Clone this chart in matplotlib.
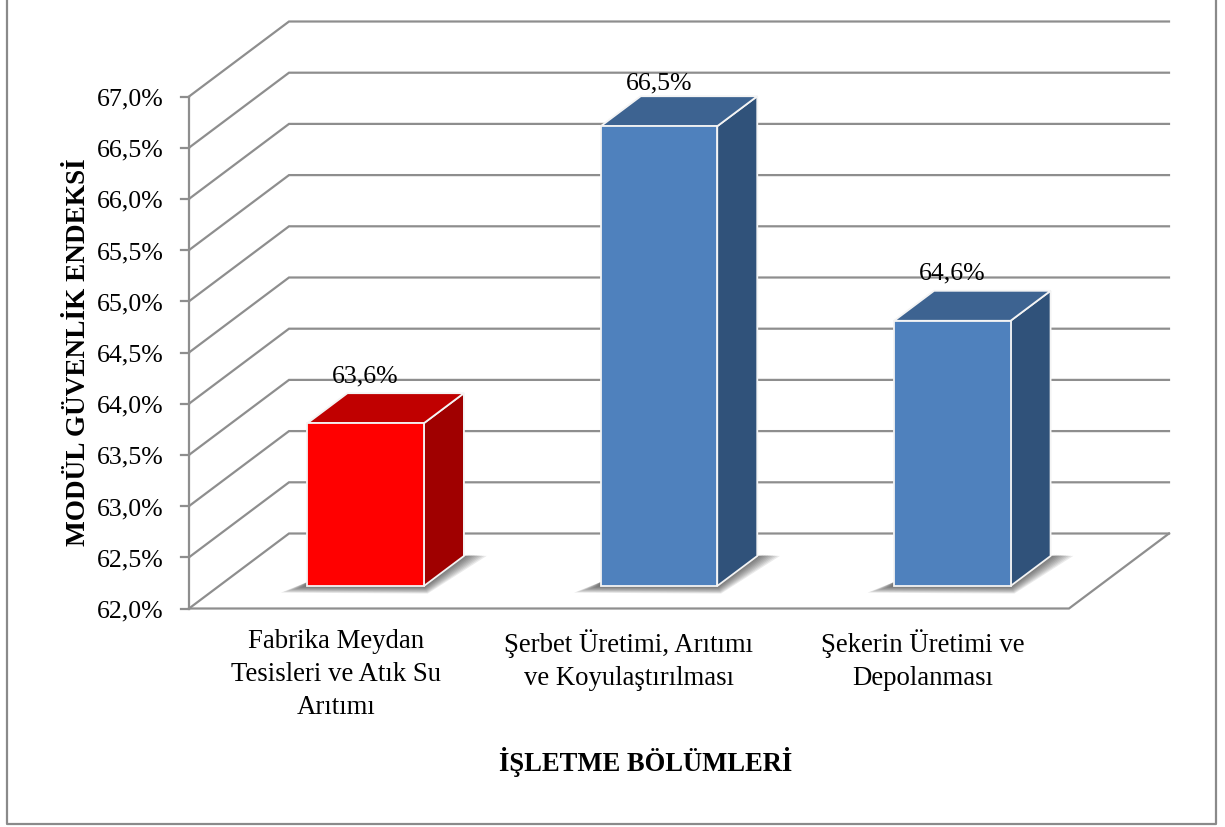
#!/usr/bin/env python3
import matplotlib
matplotlib.use("Agg")
import matplotlib.pyplot as plt
from matplotlib.lines import Line2D
from matplotlib.patches import Polygon

categories = ["Fabrika Meydan\nTesisleri ve Atık Su\nArıtımı",
              "Şerbet Üretimi, Arıtımı\nve Koyulaştırılması",
              "Şekerin Üretimi ve\nDepolanması"]
values = [63.59, 66.49, 64.59]
y_ticks = [62.0, 62.5, 63.0, 63.5, 64.0, 64.5, 65.0, 65.5, 66.0, 66.5, 67.0]
y_title = "MODÜL GÜVENLİK ENDEKSİ"
x_title = "İŞLETME BÖLÜMLERİ"

front_colors = ["#ff0000", "#4f81bd", "#4f81bd"]
top_colors = ["#c00000", "#3d6391", "#3d6391"]
side_colors = ["#a00000", "#30527a", "#30527a"]

W, H = 1225, 828
GRID = "#8e8e8e"
plt.rcParams["font.family"] = ["Liberation Serif", "DejaVu Serif"]

# pixels per category / per value unit on the front plane of the chart
px_x = 293.33
px_y = 102.4
x0, y0 = 189, 609.5  # where category edge -0.5 and value 62 sit
depth_x = 100 / px_x
depth_y = 75 / px_y


def pt(x, v, d=0.0):
    # oblique projection: d=0 front of the box, d=1 back wall
    return x + d * depth_x, v + d * depth_y


fig = plt.figure(figsize=(W / 100, H / 100), dpi=100)
ax = fig.add_axes([0, 0, 1, 1])
ax.set_xlim(-0.5 - x0 / px_x, -0.5 + (W - x0) / px_x)
ax.set_ylim(62 - (H - y0) / px_y, 62 + y0 / px_y)
ax.axis("off")

# frame, open at the top
frame_x = [6.5 / W, 6.5 / W, 1216 / W, 1216 / W]
frame_y = [1.01, 1 - 825 / H, 1 - 825 / H, 1.01]
fig.add_artist(Line2D(frame_x, frame_y, color="#8a8a8a", lw=1.6))

lw = 1.6
xl, xr = -0.5, 2.5
vmin, vmax = y_ticks[0], y_ticks[-1]

for v in y_ticks:
    a, b, c = pt(xl, v), pt(xl, v, 1), pt(xr, v, 1)
    ax.plot([a[0], b[0], c[0]], [a[1], b[1], c[1]], color=GRID, lw=lw, zorder=1,
            solid_joinstyle="miter")
    ax.plot([xl - 8 / px_x, xl], [v, v], color=GRID, lw=lw, zorder=1)
    ax.text(xl - 25 / px_x, v - 2 / px_y, f"{v:.1f}%".replace(".", ","), ha="right", va="center",
            fontsize=18.6, color="black")

ax.plot([xl, xl], [vmin, vmax], color=GRID, lw=lw, zorder=1)
# floor front and right edges
a, b, c = pt(xl, vmin), pt(xr, vmin), pt(xr, vmin, 1)
ax.plot([a[0], b[0], c[0]], [a[1], b[1], c[1]], color=GRID, lw=lw, zorder=1,
        solid_joinstyle="miter")

bar_w = 116.5 / px_x
d_front = 0.30
d_back = d_front + 0.4
label_dy = [0.69, 0.65, 0.69]

for i, v in enumerate(values):
    l, r = i - bar_w / 2, i + bar_w / 2

    # soft shadow on the floor, built from stacked translucent shapes
    for k in range(10):
        g = (10 - k) * 1.9
        gx, gy = g / px_x, g / px_y
        lo = pt(l, vmin, d_front)
        ro = pt(r, vmin, d_front)
        rb = pt(r, vmin, d_back)
        sh = [(lo[0] - gx * 1.4, lo[1] - gy * 0.35),
              (ro[0] + gx * 0.2, ro[1] - gy * 0.4),
              (rb[0] + gx * 1.2, rb[1] - gy * 0.1 + 2 / px_y),
              (rb[0], rb[1]),
              (lo[0], lo[1] + 4 / px_y)]
        ax.add_patch(Polygon(sh, closed=True, fc="#333333", ec="none", alpha=0.1, zorder=2))

    front = [pt(l, vmin, d_front), pt(r, vmin, d_front), pt(r, v, d_front), pt(l, v, d_front)]
    side = [pt(r, vmin, d_front), pt(r, vmin, d_back), pt(r, v, d_back), pt(r, v, d_front)]
    roof = [pt(l, v, d_front), pt(r, v, d_front), pt(r, v, d_back), pt(l, v, d_back)]
    for pts, col in ((side, side_colors[i]), (roof, top_colors[i]), (front, front_colors[i])):
        ax.add_patch(Polygon(pts, closed=True, fc=col, ec="#f4f4f4", lw=1.3, zorder=3,
                             joinstyle="miter"))

    lx, ly = pt(i, v + label_dy[i], d_front)
    ax.text(lx, ly - d_front * depth_y, f"{round(v, 1):.1f}%".replace(".", ","),
            ha="center", va="center", fontsize=18.5, color="black", zorder=4)

    ax.text(i, vmin - 20 / px_y, categories[i], ha="center", va="top",
            fontsize=19.3, linespacing=1.41, color="black")

ax.text(xl + (645.5 - x0) / px_x, 62 + (y0 - 762) / px_y, x_title, ha="center", va="center",
        fontsize=19.2, fontweight="bold", color="black")
ax.text(xl + (78.5 - x0) / px_x, 62 + (y0 - 352) / px_y, y_title, rotation=90, ha="center",
        va="center", fontsize=19.6, fontweight="bold", color="black")

plt.savefig("out.png", dpi=100)
plt.close()
